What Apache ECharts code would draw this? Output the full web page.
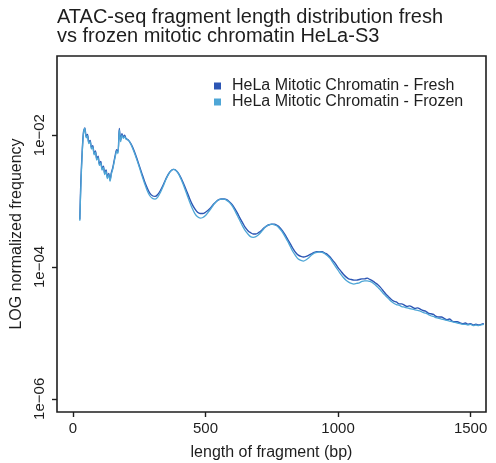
<!DOCTYPE html>
<html>
<head>
<meta charset="utf-8">
<script src="https://cdn.jsdelivr.net/npm/echarts@6/dist/echarts.min.js"></script>
<style>
  html, body { margin: 0; padding: 0; background: #fff; }
  #chart { width: 496px; height: 463px; }
</style>
</head>
<body>
<div id="chart"></div>
<script>
// Fragment length (bp) at which each frequency was sampled
const lengthsBp = [
  26, 30, 35, 40, 45, 50, 55, 60, 65, 70,
  75, 80, 85, 90, 95, 100, 105, 110, 115, 120,
  125, 130, 135, 140, 145, 150, 155, 160, 165, 170,
  175, 180, 185, 190, 195, 200, 210, 220, 230, 240,
  250, 260, 270, 280, 290, 300, 310, 320, 330, 340,
  350, 360, 370, 380, 390, 400, 410, 420, 430, 440,
  450, 460, 470, 480, 490, 500, 510, 520, 530, 540,
  550, 560, 570, 580, 590, 600, 610, 620, 630, 640,
  650, 660, 670, 680, 690, 700, 710, 720, 730, 740,
  750, 760, 770, 780, 790, 800, 810, 820, 830, 840,
  850, 860, 870, 880, 890, 900, 910, 920, 930, 940,
  950, 960, 970, 980, 990, 1000, 1010, 1020, 1030, 1040,
  1050, 1060, 1070, 1080, 1090, 1100, 1110, 1120, 1130, 1140,
  1150, 1160, 1170, 1180, 1190, 1200, 1210, 1220, 1230, 1240,
  1250, 1260, 1270, 1280, 1290, 1300, 1310, 1320, 1330, 1340,
  1350, 1360, 1370, 1380, 1390, 1400, 1410, 1420, 1430, 1440,
  1450, 1460, 1470, 1480, 1490, 1500, 1510, 1520, 1530, 1540,
  1550
];

// log10 of the normalized frequency, fresh mitotic chromatin
const freshLog10 = [
  -3.28, -2.70, -2.25, -1.95, -1.89, -2.02, -1.99, -2.11, -2.08, -2.19,
  -2.16, -2.28, -2.24, -2.36, -2.32, -2.44, -2.40, -2.51, -2.47, -2.58,
  -2.53, -2.64, -2.58, -2.68, -2.57, -2.50, -2.40, -2.30, -2.22, -2.26,
  -1.90, -2.08, -1.98, -2.03, -2.00, -2.05, -2.08, -2.14, -2.23, -2.34,
  -2.46, -2.58, -2.70, -2.80, -2.88, -2.92, -2.93, -2.90, -2.84, -2.76,
  -2.67, -2.59, -2.54, -2.52, -2.54, -2.59, -2.67, -2.76, -2.86, -2.96,
  -3.05, -3.12, -3.17, -3.19, -3.19, -3.17, -3.14, -3.10, -3.05, -3.01,
  -2.98, -2.97, -2.97, -2.98, -3.01, -3.05, -3.11, -3.18, -3.26, -3.33,
  -3.40, -3.45, -3.48, -3.50, -3.50, -3.48, -3.45, -3.41, -3.38, -3.36,
  -3.35, -3.35, -3.37, -3.40, -3.45, -3.51, -3.58, -3.65, -3.72, -3.78,
  -3.82, -3.84, -3.85, -3.84, -3.82, -3.80, -3.78, -3.77, -3.77, -3.77,
  -3.79, -3.81, -3.85, -3.90, -3.95, -4.01, -4.06, -4.11, -4.15, -4.18,
  -4.19, -4.20, -4.20, -4.19, -4.18, -4.18, -4.17, -4.19, -4.21, -4.24,
  -4.27, -4.31, -4.36, -4.41, -4.45, -4.49, -4.52, -4.53, -4.56, -4.56,
  -4.58, -4.60, -4.59, -4.61, -4.63, -4.62, -4.64, -4.66, -4.67, -4.70,
  -4.71, -4.72, -4.75, -4.76, -4.76, -4.78, -4.80, -4.79, -4.82, -4.83,
  -4.83, -4.85, -4.86, -4.85, -4.87, -4.86, -4.88, -4.87, -4.88, -4.87,
  -4.86
];

// log10 of the normalized frequency, frozen mitotic chromatin
const frozenLog10 = [
  -3.30, -2.78, -2.28, -1.97, -1.90, -2.04, -2.01, -2.13, -2.10, -2.21,
  -2.18, -2.30, -2.26, -2.38, -2.34, -2.46, -2.42, -2.53, -2.49, -2.60,
  -2.55, -2.66, -2.60, -2.70, -2.59, -2.52, -2.42, -2.32, -2.24, -2.28,
  -1.92, -2.10, -2.00, -2.05, -2.02, -2.06, -2.08, -2.15, -2.25, -2.36,
  -2.48, -2.61, -2.73, -2.84, -2.92, -2.96, -2.97, -2.94, -2.87, -2.78,
  -2.68, -2.60, -2.54, -2.52, -2.54, -2.60, -2.69, -2.79, -2.90, -3.01,
  -3.11, -3.19, -3.24, -3.26, -3.25, -3.22, -3.17, -3.12, -3.06, -3.01,
  -2.98, -2.97, -2.97, -2.99, -3.02, -3.07, -3.14, -3.22, -3.30, -3.38,
  -3.45, -3.50, -3.54, -3.55, -3.54, -3.51, -3.47, -3.42, -3.38, -3.36,
  -3.35, -3.36, -3.38, -3.42, -3.47, -3.54, -3.61, -3.69, -3.77, -3.83,
  -3.88, -3.90, -3.91, -3.89, -3.86, -3.82, -3.79, -3.78, -3.77, -3.78,
  -3.80, -3.83, -3.87, -3.93, -3.99, -4.05, -4.11, -4.16, -4.20, -4.23,
  -4.25, -4.26, -4.25, -4.24, -4.22, -4.21, -4.21, -4.22, -4.24, -4.27,
  -4.31, -4.35, -4.40, -4.44, -4.48, -4.52, -4.55, -4.57, -4.58, -4.60,
  -4.61, -4.62, -4.63, -4.64, -4.65, -4.66, -4.67, -4.69, -4.70, -4.72,
  -4.74, -4.75, -4.77, -4.78, -4.79, -4.80, -4.81, -4.82, -4.83, -4.84,
  -4.85, -4.86, -4.87, -4.87, -4.88, -4.87, -4.89, -4.88, -4.89, -4.88,
  -4.87
];

const seriesNames = ['HeLa Mitotic Chromatin - Fresh', 'HeLa Mitotic Chromatin - Frozen'];
const xTicks = [0, 500, 1000, 1500];
const yTicksLog10 = [-6, -4, -2];

const FONT = '"Liberation Sans", Arial, sans-serif';
const INK = '#1e1e1e';
const toPairs = (ys) => lengthsBp.map((x, i) => [x, ys[i]]);
const expLabel = (v) => '1e\u2212' + String(Math.round(-v)).padStart(2, '0');

const chart = echarts.init(document.getElementById('chart'), null, { renderer: 'canvas' });
chart.setOption({
  animation: false,
  backgroundColor: '#ffffff',
  title: {
    text: 'ATAC-seq fragment length distribution fresh\nvs frozen mitotic chromatin HeLa-S3',
    left: 57, top: 8, padding: 0,
    textStyle: { fontFamily: FONT, fontSize: 20, fontWeight: 'normal', color: INK, lineHeight: 19 }
  },
  legend: {
    orient: 'vertical', left: 214, top: 78, padding: 0,
    icon: 'rect', itemWidth: 7, itemHeight: 7, itemGap: 0,
    textStyle: { fontFamily: FONT, fontSize: 16, color: INK, lineHeight: 16, padding: [0, 0, 0, 6] },
    data: seriesNames
  },
  grid: {
    left: 57, right: 10, top: 56, bottom: 51,
    show: true, borderColor: INK, borderWidth: 1.6,
    containLabel: false, outerBoundsMode: 'none'
  },
  xAxis: {
    type: 'value', min: -60, max: 1558,
    name: 'length of fragment (bp)', nameLocation: 'middle', nameGap: 33,
    nameTextStyle: { fontFamily: FONT, fontSize: 16, color: INK },
    axisLine: { show: false, onZero: false },
    splitLine: { show: false },
    axisTick: { show: true, length: 5, lineStyle: { color: INK, width: 1.4 }, customValues: xTicks },
    axisLabel: { fontFamily: FONT, fontSize: 15, color: INK, margin: 9, formatter: (v) => String(v), customValues: xTicks }
  },
  yAxis: {
    type: 'value', min: -6.2, max: -0.8,
    name: 'LOG normalized frequency', nameLocation: 'middle', nameGap: 31, nameRotate: 90,
    nameTextStyle: { fontFamily: FONT, fontSize: 16, color: INK },
    axisLine: { show: false, onZero: false },
    splitLine: { show: false },
    axisTick: { show: true, length: 5, lineStyle: { color: INK, width: 1.4 }, customValues: yTicksLog10 },
    axisLabel: { fontFamily: FONT, fontSize: 15, color: INK, rotate: 90, margin: 10, formatter: expLabel, customValues: yTicksLog10 }
  },
  series: [
    {
      name: seriesNames[0], type: 'line', data: toPairs(freshLog10),
      showSymbol: false, smooth: 0.3, color: '#2c56b4',
      lineStyle: { width: 1.4, color: '#2c56b4' }
    },
    {
      name: seriesNames[1], type: 'line', data: toPairs(frozenLog10),
      showSymbol: false, smooth: 0.3, color: '#4ea6d6',
      lineStyle: { width: 1.3, color: '#4ea6d6' }
    }
  ]
});
</script>
</body>
</html>
